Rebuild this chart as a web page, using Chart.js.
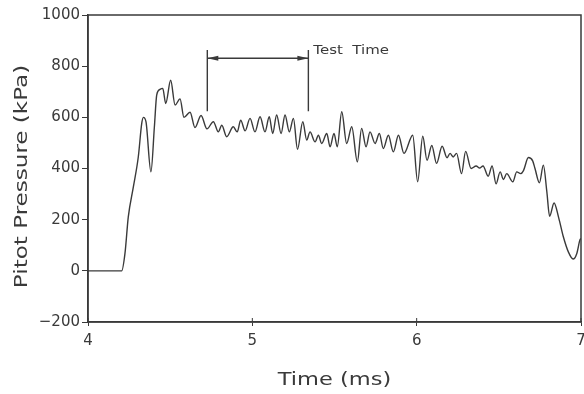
<!DOCTYPE html>
<html>
<head>
<meta charset="utf-8">
<script src="https://cdn.jsdelivr.net/npm/chart.js@4"></script>
<style>
  html, body { margin: 0; padding: 0; background: #fff; }
  #wrap { width: 584px; height: 394px; }
</style>
</head>
<body>
<div id="wrap"><canvas id="c" width="584" height="394"></canvas></div>
<script>
// Pitot pressure trace
const timeMs = [
  4.000, 4.205, 4.225, 4.245, 4.276, 4.306, 4.327, 4.337, 4.353, 4.383,
  4.404, 4.418, 4.438, 4.455, 4.473, 4.503, 4.530, 4.560, 4.584, 4.621,
  4.651, 4.688, 4.724, 4.763, 4.793, 4.814, 4.844, 4.884, 4.908, 4.929,
  4.956, 4.986, 5.016, 5.047, 5.077, 5.103, 5.124, 5.148, 5.175, 5.199,
  5.225, 5.250, 5.275, 5.307, 5.331, 5.351, 5.382, 5.402, 5.422, 5.453,
  5.473, 5.497, 5.517, 5.544, 5.574, 5.605, 5.639, 5.665, 5.692, 5.716,
  5.747, 5.773, 5.797, 5.828, 5.858, 5.889, 5.923, 5.976, 6.006, 6.037,
  6.063, 6.092, 6.121, 6.155, 6.185, 6.203, 6.222, 6.243, 6.273, 6.298,
  6.331, 6.362, 6.383, 6.404, 6.435, 6.459, 6.483, 6.508, 6.528, 6.548,
  6.585, 6.609, 6.633, 6.650, 6.680, 6.706, 6.720, 6.747, 6.771, 6.792,
  6.809, 6.836, 6.864, 6.893, 6.923, 6.952, 6.974, 6.994, 7.000
];
const pitotKPa = [
  0, 0, 68, 210, 328, 445, 576, 600, 582, 387,
  563, 687, 709, 713, 654, 745, 648, 672, 600, 620,
  560, 607, 555, 583, 543, 569, 524, 563, 543, 589,
  547, 596, 543, 602, 543, 602, 537, 609, 537, 609,
  543, 596, 475, 583, 511, 543, 504, 530, 498, 537,
  485, 537, 485, 622, 498, 563, 426, 557, 485, 543,
  498, 537, 478, 530, 465, 530, 459, 530, 348, 526,
  432, 490, 420, 487, 442, 459, 445, 459, 380, 467,
  400, 410, 402, 410, 370, 410, 340, 387, 357, 380,
  348, 387, 380, 392, 443, 430, 400, 344, 413, 310,
  213, 265, 208, 132, 74, 46, 67, 122, 126
];

// "Test Time" bracket
const testTimeStart = 4.726;
const testTimeEnd = 5.341;
const bracketTop = 863;
const bracketBottom = 624;
const bracketArrow = 831;
const bracketLabel = 'Test  Time';

const xTicks = [4, 5, 6, 7];
const yTicks = [-200, 0, 200, 400, 600, 800, 1000];
const xTitle = 'Time (ms)';
const yTitle = 'Pitot Pressure (kPa)';

const ink = '#3a3a3a';
const tickFont = { family: 'DejaVu Sans', size: 15 };

const trace = timeMs.map((t, i) => ({ x: t, y: pitotKPa[i] }));
const leftBar = [{ x: testTimeStart, y: bracketTop }, { x: testTimeStart, y: bracketBottom }];
const rightBar = [{ x: testTimeEnd, y: bracketTop }, { x: testTimeEnd, y: bracketBottom }];
const arrowLine = [{ x: testTimeStart, y: bracketArrow }, { x: testTimeEnd, y: bracketArrow }];

function seg(data, w){
  return { data: data, borderColor: ink, borderWidth: w, pointRadius: 0, tension: 0 };
}

// wide lettering like the original (stretched along the text direction)
function wideText(c, txt, x, y, rot, stretch){
  c.save();
  c.translate(x, y);
  c.rotate(rot);
  c.scale(stretch, 1);
  c.fillText(txt, 0, 0);
  c.restore();
}

// frame, inner tick marks, arrow heads, axis titles and label
const extras = {
  id: 'extras',
  afterDatasetsDraw(chart){
    const c = chart.ctx, a = chart.chartArea;
    const xs = chart.scales.x, ys = chart.scales.y;
    c.save();
    c.strokeStyle = ink;
    c.lineWidth = 1.5;
    c.strokeRect(a.left, a.top, a.right - a.left, a.bottom - a.top);
    c.lineWidth = 1;
    xTicks.forEach(v => {
      const px = xs.getPixelForValue(v);
      c.beginPath(); c.moveTo(px, a.bottom); c.lineTo(px, a.bottom - 4); c.stroke();
    });
    // arrow heads
    const ay = ys.getPixelForValue(bracketArrow);
    const x1 = xs.getPixelForValue(testTimeStart), x2 = xs.getPixelForValue(testTimeEnd);
    c.fillStyle = ink;
    c.beginPath(); c.moveTo(x1, ay); c.lineTo(x1 + 11, ay - 2.5); c.lineTo(x1 + 11, ay + 2.5); c.closePath(); c.fill();
    c.beginPath(); c.moveTo(x2, ay); c.lineTo(x2 - 11, ay - 2.5); c.lineTo(x2 - 11, ay + 2.5); c.closePath(); c.fill();
    c.textBaseline = 'middle';
    // label
    c.font = '13px "DejaVu Sans"';
    c.textAlign = 'left';
    wideText(c, bracketLabel, x2 + 5, ys.getPixelForValue(bracketTop) + 1, 0, 1.15);
    // axis titles
    c.font = '18px "DejaVu Sans"';
    c.textAlign = 'center';
    wideText(c, xTitle, (a.left + a.right) / 2, a.bottom + 58, 0, 1.25);
    wideText(c, yTitle, a.left - 66, (a.top + a.bottom) / 2 + 8, -Math.PI / 2, 1.28);
    c.restore();
  }
};

new Chart(document.getElementById('c'), {
  type: 'line',
  data: {
    datasets: [
      { data: trace, borderColor: ink, borderWidth: 1.4, pointRadius: 0, cubicInterpolationMode: 'monotone' },
      seg(leftBar, 1.4), seg(rightBar, 1.4), seg(arrowLine, 1.4)
    ]
  },
  options: {
    responsive: false,
    animation: false,
    events: [],
    layout: { padding: { left: 0, right: 3, top: 15, bottom: 0 } },
    plugins: { legend: { display: false }, tooltip: { enabled: false } },
    scales: {
      x: {
        type: 'linear', min: 4, max: 7,
        afterBuildTicks: s => { s.ticks = xTicks.map(v => ({ value: v })); },
        afterFit: s => { s.height = 72; s.paddingLeft = 0; s.paddingRight = 0; },
        grid: { drawOnChartArea: false, tickLength: 4, color: ink, lineWidth: 1 },
        border: { color: ink, width: 1.5 },
        ticks: { color: ink, font: tickFont, padding: 6, maxRotation: 0 }
      },
      y: {
        type: 'linear', min: -200, max: 1000,
        afterBuildTicks: s => { s.ticks = yTicks.map(v => ({ value: v })); },
        afterFit: s => { s.width = 88; s.paddingTop = 0; s.paddingBottom = 0; },
        grid: { drawOnChartArea: false, tickLength: 6, color: ink, lineWidth: 1 },
        border: { color: ink, width: 1.5 },
        ticks: { color: ink, font: tickFont, padding: 2,
          callback: v => String(v).replace('-', '\u2212') }
      }
    }
  },
  plugins: [extras]
});
</script>
</body>
</html>
